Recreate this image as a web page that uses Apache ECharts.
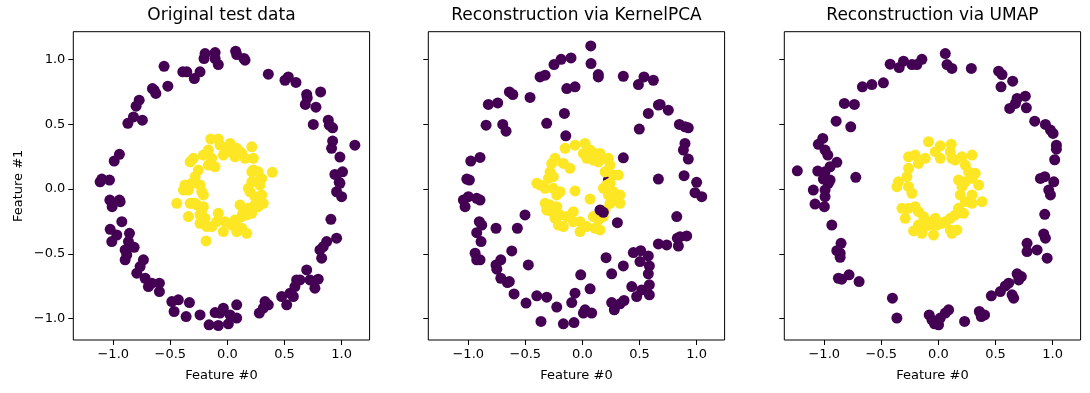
<!DOCTYPE html>
<html><head><meta charset="utf-8">
<script src="https://cdn.jsdelivr.net/npm/echarts@6/dist/echarts.min.js"></script>
<style>html,body{margin:0;padding:0;background:#fff}#c{width:1090px;height:393px}</style>
</head><body><div id="c"></div>
<script>
const titles = ["Original test data", "Reconstruction via KernelPCA", "Reconstruction via UMAP"];
const xTicks = [-1, -0.5, 0, 0.5, 1];
const yTicks = [-1, -0.5, 0, 0.5, 1];
const xName = "Feature #0";
const yName = "Feature #1";

const origOuter = [[-0.196,1.046],[-0.205,1.008],[-0.108,1.054],[-0.108,1.008],[-0.08,0.961],[0.072,1.064],[0.081,1.038],[0.145,1.008],[0.154,0.995],[-0.555,0.948],[-0.391,0.905],[-0.356,0.905],[-0.29,0.853],[-0.24,0.905],[0.358,0.887],[0.504,0.84],[0.533,0.866],[0.6,0.823],[0.816,0.75],[0.694,0.73],[0.699,0.704],[0.682,0.653],[0.775,0.632],[0.752,0.499],[0.883,0.532],[0.892,0.493],[0.921,0.473],[0.921,0.37],[0.912,0.314],[1.116,0.339],[0.985,0.247],[0.941,0.113],[1.008,0.133],[0.979,0.052],[-0.642,0.763],[-0.627,0.738],[-0.657,0.776],[-0.522,0.794],[-0.773,0.686],[-0.8,0.64],[-0.823,0.557],[-0.745,0.532],[-0.872,0.507],[-0.946,0.268],[-0.992,0.216],[-1.1,0.077],[-1.033,0.069],[-1.115,0.056],[-1.03,-0.085],[-1.01,-0.136],[-0.946,-0.085],[-0.94,-0.098],[-0.925,-0.252],[-1.027,-0.311],[-1.013,-0.406],[-0.969,-0.355],[-0.858,-0.342],[-0.867,-0.406],[-0.817,-0.45],[-0.896,-0.47],[-0.896,-0.547],[-0.882,-0.509],[-0.736,-0.547],[-0.765,-0.599],[-0.794,-0.65],[-0.721,-0.689],[-0.692,-0.753],[-0.662,-0.727],[-0.596,-0.727],[-0.596,-0.792],[-0.487,-0.869],[-0.43,-0.856],[-0.333,-0.877],[-0.467,-0.946],[-0.362,-0.985],[-0.24,-0.972],[-0.161,-1.049],[-0.08,-1.054],[0.008,-1.041],[-0.108,-0.954],[-0.036,-0.92],[-0.065,-0.958],[0.023,-0.972],[0.081,-0.997],[0.081,-0.894],[0.279,-0.958],[0.314,-0.92],[0.358,-0.894],[0.329,-0.869],[0.475,-0.83],[0.519,-0.894],[0.548,-0.804],[0.577,-0.83],[0.591,-0.753],[0.606,-0.702],[0.635,-0.702],[0.694,-0.625],[0.723,-0.702],[0.766,-0.766],[0.795,-0.696],[0.81,-0.47],[0.839,-0.445],[0.825,-0.534],[0.869,-0.406],[0.956,-0.38],[0.906,-0.234],[0.956,-0.021],[1.0,-0.059],[0.985,0.044]];
const origInner = [[-0.146,0.386],[-0.08,0.386],[-0.065,0.339],[0.023,0.352],[0.081,0.314],[0.213,0.326],[-0.006,0.288],[0.066,0.249],[0.125,0.275],[0.154,0.237],[0.227,0.237],[-0.167,0.301],[-0.211,0.262],[-0.298,0.237],[-0.327,0.21],[-0.137,0.237],[-0.167,0.185],[-0.109,0.172],[-0.255,0.146],[-0.283,0.095],[0.213,0.133],[0.27,0.133],[0.3,0.082],[0.285,0.031],[0.213,0.056],[0.183,0.005],[0.393,0.129],[-0.371,0.031],[-0.386,-0.008],[-0.342,-0.008],[-0.312,0.044],[-0.444,-0.11],[-0.225,-0.021],[-0.211,-0.046],[-0.312,-0.11],[-0.269,-0.123],[-0.211,-0.136],[0.198,-0.021],[0.241,-0.059],[0.3,-0.046],[0.314,-0.11],[0.241,-0.123],[0.183,-0.149],[0.11,-0.123],[0.125,-0.213],[0.169,-0.2],[0.213,-0.188],[-0.342,-0.213],[-0.24,-0.2],[-0.196,-0.226],[-0.24,-0.265],[-0.181,-0.29],[-0.225,-0.162],[-0.08,-0.188],[-0.094,-0.252],[-0.021,-0.252],[-0.036,-0.329],[0.038,-0.278],[0.081,-0.278],[0.081,-0.329],[0.125,-0.303],[0.169,-0.342],[0.066,-0.239],[-0.187,-0.401],[-0.137,-0.29],[0.052,0.275],[0.11,0.288],[-0.036,0.262],[0.227,0.146],[0.256,0.056],[-0.24,0.031],[0.134,-0.188],[0.27,-0.136],[-0.327,-0.11],[-0.283,-0.11]];

const kpcaOuter = [[0.073,1.105],[-0.187,1.002],[-0.249,0.961],[-0.1,1.012],[0.075,0.969],[0.139,0.884],[0.139,0.866],[-0.371,0.866],[-0.327,0.879],[-0.137,0.776],[-0.065,0.789],[0.358,0.871],[0.49,0.807],[0.539,0.866],[0.621,0.84],[-0.64,0.75],[-0.61,0.73],[-0.459,0.707],[-0.824,0.653],[-0.742,0.665],[-0.158,0.584],[0.665,0.648],[0.68,0.653],[0.752,0.609],[0.577,0.584],[-0.844,0.493],[-0.698,0.499],[-0.669,0.447],[-0.313,0.507],[-0.146,0.411],[0.498,0.463],[0.849,0.499],[0.898,0.48],[0.927,0.473],[0.898,0.352],[0.884,0.301],[0.927,0.231],[-0.978,0.216],[-0.897,0.244],[0.358,0.241],[-0.99,0.069],[-1.013,0.077],[0.665,0.077],[0.89,0.103],[1.0,0.052],[-1.043,-0.085],[-0.999,-0.059],[-1.028,-0.136],[-0.926,-0.072],[-0.897,-0.085],[-0.503,-0.2],[-0.903,-0.252],[-0.882,-0.278],[-0.926,-0.337],[-0.888,-0.406],[-0.757,-0.303],[-0.57,-0.303],[-0.94,-0.496],[-0.926,-0.547],[-0.897,-0.547],[-0.619,-0.478],[-0.757,-0.586],[-0.75,-0.619],[-0.715,-0.547],[-0.474,-0.586],[-0.715,-0.689],[-0.657,-0.722],[-0.64,-0.715],[-0.599,-0.81],[-0.494,-0.881],[-0.4,-0.825],[-0.313,-0.835],[-0.225,-0.912],[-0.094,-0.877],[-0.065,-0.804],[-0.015,-0.663],[0.067,-0.771],[0.023,-0.933],[0.008,-0.958],[0.081,-0.958],[-0.363,-1.023],[-0.167,-1.041],[-0.074,-1.031],[0.207,-0.53],[0.256,-0.655],[0.358,-0.594],[0.256,-0.877],[0.279,-0.933],[0.329,-0.887],[0.364,-0.861],[0.432,-0.753],[0.475,-0.83],[0.519,-0.779],[0.586,-0.74],[0.586,-0.817],[0.446,-0.491],[0.51,-0.476],[0.577,-0.517],[0.504,-0.56],[0.586,-0.594],[0.577,-0.655],[0.665,-0.424],[0.738,-0.432],[0.831,-0.38],[0.855,-0.368],[0.913,-0.362],[0.84,-0.44],[0.826,-0.213],[0.986,-0.028],[1.045,-0.059],[0.306,-0.26],[0.154,-0.162],[0.183,-0.18]];
const kpcaOuterHidden = [[0.227,0.069]];
const kpcaInner = [[-0.152,0.314],[-0.065,0.339],[0.023,0.352],[0.067,0.301],[0.11,0.275],[0.154,0.275],[0.183,0.237],[0.227,0.237],[0.242,0.185],[0.008,0.275],[0.038,0.237],[0.095,0.224],[0.139,0.21],[-0.167,0.198],[-0.109,0.16],[-0.24,0.237],[-0.269,0.198],[-0.284,0.133],[-0.298,0.082],[-0.371,0.031],[-0.327,0.005],[-0.255,0.005],[-0.196,-0.021],[-0.225,-0.046],[-0.327,-0.11],[-0.284,-0.123],[-0.225,-0.136],[-0.313,-0.162],[-0.269,-0.175],[-0.24,-0.226],[-0.196,-0.2],[-0.137,-0.213],[-0.08,-0.175],[-0.211,-0.278],[-0.167,-0.29],[-0.08,-0.252],[-0.021,-0.252],[-0.021,-0.329],[0.038,-0.29],[0.11,-0.303],[0.154,-0.316],[0.139,-0.239],[0.095,-0.213],[0.183,-0.213],[0.198,-0.162],[0.242,-0.11],[0.227,-0.046],[0.271,-0.021],[0.329,-0.046],[0.329,-0.11],[0.285,-0.085],[0.183,0.005],[0.213,0.031],[0.242,0.044],[0.271,0.108],[0.314,0.108],[0.198,0.133],[-0.065,-0.015],[0.067,-0.077],[-0.4,0.044],[-0.255,0.095]];

const umapOuter = [[0.06,1.046],[0.075,0.961],[0.118,0.931],[0.288,0.931],[-0.423,0.964],[-0.344,0.938],[-0.306,0.987],[-0.232,0.961],[-0.189,0.961],[-0.145,1.002],[0.527,0.91],[0.557,0.884],[0.65,0.833],[0.548,0.789],[-0.666,0.789],[-0.583,0.807],[-0.482,0.82],[0.761,0.717],[0.689,0.699],[0.674,0.661],[0.624,0.622],[0.77,0.627],[-0.824,0.661],[-0.736,0.653],[-0.896,0.524],[-0.768,0.48],[0.843,0.524],[0.937,0.499],[0.981,0.455],[1.004,0.429],[1.033,0.339],[1.033,0.308],[1.018,0.226],[-1.013,0.391],[-1.052,0.345],[-0.993,0.301],[-0.969,0.262],[-0.89,0.206],[-0.949,0.172],[-1.057,0.139],[-0.993,0.133],[-1.236,0.141],[-0.724,0.09],[-1.008,0.077],[-0.949,0.069],[0.893,0.082],[0.931,0.095],[1.01,0.056],[-0.964,0.044],[-1.096,-0.008],[-0.993,-0.008],[-0.993,-0.059],[-1.081,-0.116],[-0.999,-0.136],[-0.934,-0.278],[-0.853,-0.419],[-0.89,-0.476],[-0.861,-0.496],[-0.861,-0.527],[-0.876,-0.689],[-0.847,-0.696],[-0.783,-0.663],[-0.695,-0.715],[-0.403,-0.843],[-0.364,-0.997],[-0.081,-0.972],[-0.057,-1.01],[-0.034,-1.041],[0.001,-1.049],[0.089,-0.933],[0.06,-0.958],[0.016,-0.997],[0.229,-1.023],[0.358,-0.946],[0.375,-0.985],[0.404,-0.972],[0.463,-0.825],[0.542,-0.792],[0.586,-0.748],[0.615,-0.727],[0.645,-0.817],[0.659,-0.843],[0.689,-0.655],[0.703,-0.702],[0.726,-0.676],[0.776,-0.419],[0.776,-0.483],[0.864,-0.47],[0.952,-0.534],[0.922,-0.347],[0.937,-0.38],[0.931,-0.195],[0.966,-0.008],[0.981,-0.046]];
const umapInner = [[-0.087,0.365],[0.016,0.334],[0.016,0.237],[0.112,0.345],[0.104,0.288],[0.118,0.237],[0.147,0.224],[-0.028,0.288],[-0.262,0.249],[-0.204,0.262],[-0.116,0.237],[-0.175,0.198],[0.206,0.249],[0.294,0.262],[0.235,0.185],[0.264,0.133],[0.323,0.121],[0.176,0.069],[0.235,0.056],[0.294,0.082],[0.352,0.031],[0.206,0.018],[-0.262,0.16],[-0.276,0.095],[-0.35,0.056],[-0.364,0.018],[-0.262,0.018],[-0.232,-0.033],[0.191,-0.046],[0.294,-0.046],[0.382,-0.098],[0.235,-0.098],[0.294,-0.11],[0.176,-0.149],[0.22,-0.188],[0.147,-0.2],[0.104,-0.226],[0.06,-0.252],[0.031,-0.265],[0.104,-0.316],[0.162,-0.316],[0.118,-0.342],[-0.32,-0.149],[-0.262,-0.149],[-0.291,-0.226],[-0.204,-0.136],[-0.175,-0.175],[-0.131,-0.213],[-0.101,-0.252],[-0.057,-0.278],[-0.028,-0.226],[-0.116,-0.29],[-0.145,-0.342],[-0.218,-0.324],[-0.043,-0.355],[-0.013,-0.278],[-0.175,-0.278]];

const panels = [[origOuter, origInner, []], [kpcaOuter, kpcaInner, kpcaOuterHidden], [umapOuter, umapInner, []]];
const PURPLE = '#440154', YELLOW = '#fde725';
const FONT = 'DejaVu Sans';
const lefts = [73.3, 428.3, 784.3];
const W = 296.3, TOP = 31.7, H = 308.3;
const fmt = v => (v < 0 ? '\u2212' + Math.abs(v).toFixed(1) : v.toFixed(1));

const option = {
  animation: false,
  backgroundColor: '#fff',
  title: titles.map((t, i) => ({
    text: t, left: lefts[i] + W / 2, top: 7, textAlign: 'center', padding: 0,
    textStyle: { fontFamily: FONT, fontSize: 17, fontWeight: 'normal', color: '#000' }
  })),
  grid: lefts.map(l => ({ left: l, top: TOP, width: W, height: H, show: true, borderColor: '#000', borderWidth: 1, backgroundColor: 'transparent' })),
  xAxis: lefts.map((l, i) => ({
    type: 'value', gridIndex: i, min: -1.35, max: 1.245,
    splitLine: { show: false }, axisLine: { show: false, onZero: false },
    axisTick: { show: true, inside: false, length: 5, lineStyle: { color: '#000', width: 1 }, customValues: xTicks },
    axisLabel: { customValues: xTicks, formatter: fmt, color: '#000', fontSize: 13, fontFamily: FONT, margin: 8 },
    name: xName, nameLocation: 'middle', nameGap: 29,
    nameTextStyle: { color: '#000', fontSize: 13, fontFamily: FONT }
  })),
  yAxis: lefts.map((l, i) => ({
    type: 'value', gridIndex: i, min: -1.166, max: 1.215,
    splitLine: { show: false }, axisLine: { show: false, onZero: false },
    axisTick: { show: true, inside: false, length: 5, lineStyle: { color: '#000', width: 1 }, customValues: yTicks },
    axisLabel: { show: i === 0, customValues: yTicks, formatter: fmt, color: '#000', fontSize: 13, fontFamily: FONT, margin: 8 },
    name: i === 0 ? yName : '', nameLocation: 'middle', nameGap: 48,
    nameTextStyle: { color: '#000', fontSize: 13, fontFamily: FONT }
  })),
  series: []
};
panels.forEach((p, i) => {
  const base = { type: 'scatter', xAxisIndex: i, yAxisIndex: i, symbol: 'circle', symbolSize: 11, emphasis: { disabled: true } };
  option.series.push(Object.assign({}, base, { data: p[2], itemStyle: { color: PURPLE, opacity: 1 } }));
  option.series.push(Object.assign({}, base, { data: p[1], itemStyle: { color: YELLOW, opacity: 1 } }));
  option.series.push(Object.assign({}, base, { data: p[0], itemStyle: { color: PURPLE, opacity: 1 } }));
});
echarts.init(document.getElementById('c'), null, { renderer: 'canvas' }).setOption(option);
</script></body></html>
